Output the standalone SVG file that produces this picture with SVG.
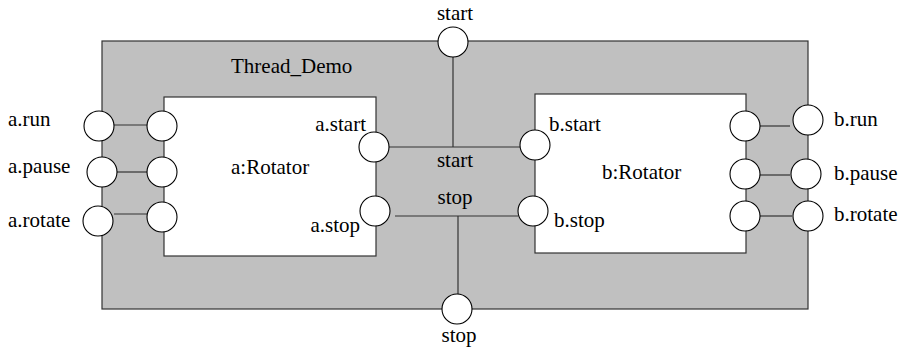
<svg xmlns="http://www.w3.org/2000/svg" width="901" height="348" viewBox="0 0 901 348">
<style>
.box{fill:#c0c0c0;stroke:#333;stroke-width:1.2}
.part{fill:#fff;stroke:#333;stroke-width:1.2}
.port{fill:#fff;stroke:#000;stroke-width:1.1}
.wire{fill:none;stroke:#333;stroke-width:1.2}
text{font-family:'Liberation Serif','Times New Roman','DejaVu Serif',serif;font-size:21px;fill:#000}
</style>
<rect width="901" height="348" fill="#fff"/>
<g font-family="Liberation Serif, serif">
<g id="Thread_Demo">
<rect class="box" x="102" y="41" width="706" height="268"/>
<text x="231" y="73">Thread_Demo</text>
</g>
<g id="a_Rotator">
<rect class="part" x="164" y="97" width="212" height="159"/>
<text x="231" y="174">a:Rotator</text>
</g>
<g id="b_Rotator">
<rect class="part" x="535" y="94" width="211" height="159"/>
<text x="602" y="179">b:Rotator</text>
</g>
<g id="connectors">
<line class="wire" x1="114" y1="125" x2="147" y2="125"/>
<line class="wire" x1="117" y1="172" x2="147" y2="172"/>
<line class="wire" x1="114" y1="214" x2="147" y2="214"/>
<line class="wire" x1="388" y1="147" x2="520" y2="147"/>
<line class="wire" x1="453" y1="57" x2="453" y2="147"/>
<line class="wire" x1="395" y1="216" x2="518" y2="216"/>
<line class="wire" x1="458" y1="216" x2="458" y2="294"/>
<line class="wire" x1="760" y1="126" x2="790" y2="126"/>
<line class="wire" x1="760" y1="175" x2="790" y2="175"/>
<line class="wire" x1="760" y1="216" x2="792" y2="216"/>
<text x="455" y="167" text-anchor="middle">start</text>
<text x="455" y="204" text-anchor="middle">stop</text>
</g>
<g id="port_a_run"><circle class="port" cx="99" cy="126" r="15"/><circle class="port" cx="162" cy="126" r="15"/><text x="8" y="126">a.run</text></g>
<g id="port_a_pause"><circle class="port" cx="102" cy="172" r="15"/><circle class="port" cx="162" cy="172" r="15"/><text x="8" y="173">a.pause</text></g>
<g id="port_a_rotate"><circle class="port" cx="98" cy="221" r="15"/><circle class="port" cx="162" cy="217" r="15"/><text x="8" y="227">a.rotate</text></g>
<g id="port_a_start"><circle class="port" cx="374" cy="147" r="15"/><text x="366" y="131" text-anchor="end">a.start</text></g>
<g id="port_a_stop"><circle class="port" cx="375" cy="211" r="15"/><text x="360" y="232" text-anchor="end">a.stop</text></g>
<g id="port_b_start"><circle class="port" cx="535" cy="145" r="15"/><text x="549" y="131">b.start</text></g>
<g id="port_b_stop"><circle class="port" cx="533" cy="211" r="15"/><text x="554" y="227">b.stop</text></g>
<g id="port_b_run"><circle class="port" cx="745" cy="126" r="15"/><circle class="port" cx="808" cy="120" r="15"/><text x="834" y="126">b.run</text></g>
<g id="port_b_pause"><circle class="port" cx="745" cy="174" r="15"/><circle class="port" cx="806" cy="174" r="15"/><text x="834" y="180">b.pause</text></g>
<g id="port_b_rotate"><circle class="port" cx="745" cy="216" r="15"/><circle class="port" cx="808" cy="216" r="15"/><text x="834" y="221">b.rotate</text></g>
<g id="port_start"><circle class="port" cx="453" cy="42" r="15"/><text x="455" y="20" text-anchor="middle">start</text></g>
<g id="port_stop"><circle class="port" cx="457" cy="309" r="15"/><text x="459" y="342" text-anchor="middle">stop</text></g>
</g>
</svg>
